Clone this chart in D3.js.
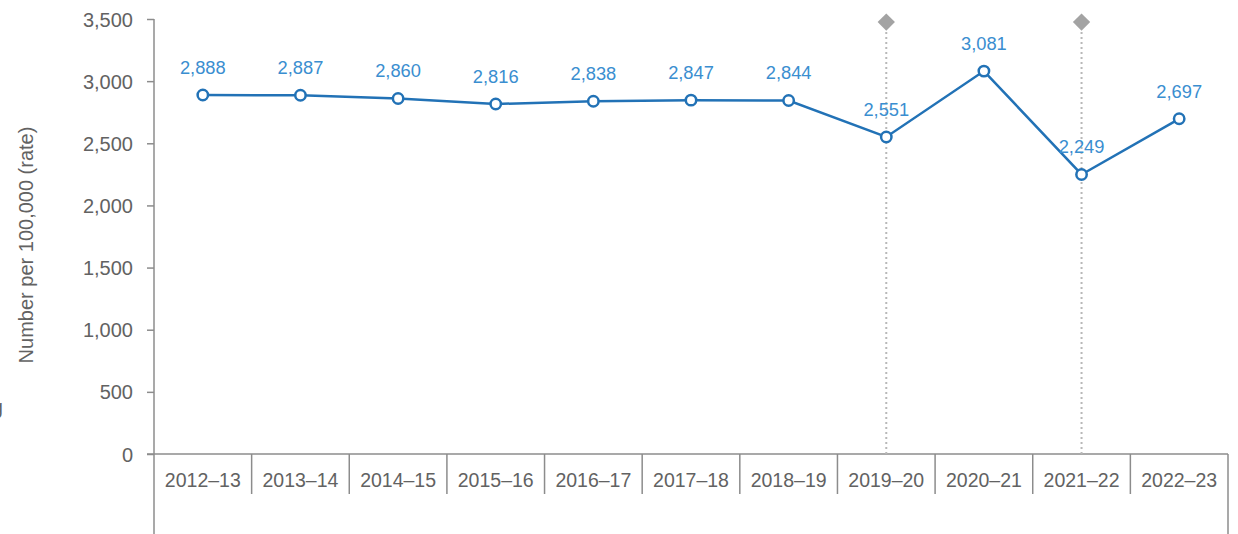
<!DOCTYPE html>
<html>
<head>
<meta charset="utf-8">
<script src="https://cdn.jsdelivr.net/npm/d3@7"></script>
<style>
  html, body { margin: 0; padding: 0; background: #fff; }
  svg text { font-family: "Liberation Sans", "Helvetica Neue", Arial, sans-serif; }
</style>
</head>
<body>
<svg id="chart" width="1238" height="534"></svg>
<script>
// Rates per 100,000 by financial year
const years = ["2012–13", "2013–14", "2014–15", "2015–16", "2016–17", "2017–18",
               "2018–19", "2019–20", "2020–21", "2021–22", "2022–23"];
const rates = [2888, 2887, 2860, 2816, 2838, 2847, 2844, 2551, 3081, 2249, 2697];
const breakYears = ["2019–20", "2021–22"];
const yTicks = [0, 500, 1000, 1500, 2000, 2500, 3000, 3500];
const breakMarkerLevel = 3475;

const svg = d3.select("#chart");
const plotLeft = 154, plotRight = 1228, plotTop = 19, baseline = 454, rowBottom = 534;

const x = d3.scaleBand().domain(years).range([plotLeft, plotRight]).paddingInner(0).paddingOuter(0);
const y = d3.scaleLinear().domain([0, 3500]).range([baseline, plotTop]);
const fmt = d3.format(",");

const axisColor = "#8c8c8c";
const textColor = "#626262";
const lineColor = "#2272b6";
const labelColor = "#3a8ed0";

// Y axis
const yAxis = svg.append("g").attr("transform", `translate(${plotLeft},0)`)
  .call(d3.axisLeft(y).tickValues(yTicks).tickFormat(fmt).tickSize(7).tickSizeOuter(0).tickPadding(14));
yAxis.select(".domain").remove();
yAxis.selectAll(".tick line").attr("stroke", axisColor).attr("stroke-width", 1.5);
yAxis.selectAll(".tick text").attr("fill", textColor).attr("font-size", 20).attr("dy", "0.35em");

// Left vertical axis line extends below the baseline into the category row
svg.append("line").attr("x1", plotLeft).attr("x2", plotLeft).attr("y1", plotTop).attr("y2", rowBottom)
  .attr("stroke", axisColor).attr("stroke-width", 1.5);
// Right border of the category row
svg.append("line").attr("x1", plotRight).attr("x2", plotRight).attr("y1", baseline).attr("y2", rowBottom)
  .attr("stroke", axisColor).attr("stroke-width", 1.5);
// Baseline
svg.append("line").attr("x1", plotLeft - 7).attr("x2", plotRight).attr("y1", baseline).attr("y2", baseline)
  .attr("stroke", axisColor).attr("stroke-width", 1.5);

// Category separators
svg.append("g").selectAll("line").data(years.slice(1)).join("line")
  .attr("x1", d => x(d)).attr("x2", d => x(d))
  .attr("y1", baseline).attr("y2", baseline + 40)
  .attr("stroke", axisColor).attr("stroke-width", 1.5);

// Category labels
svg.append("g").selectAll("text").data(years).join("text")
  .attr("x", d => x(d) + x.bandwidth() / 2)
  .attr("y", baseline + 26)
  .attr("dy", "0.35em")
  .attr("text-anchor", "middle")
  .attr("fill", textColor)
  .attr("font-size", 19.5)
  .text(d => d);

// Y axis title
svg.append("text")
  .attr("transform", "translate(33,245) rotate(-90)")
  .attr("text-anchor", "middle")
  .attr("fill", textColor)
  .attr("font-size", 20)
  .text("Number per 100,000 (rate)");

svg.append("text")
  .attr("x", -8).attr("y", 414)
  .attr("fill", textColor)
  .attr("font-size", 19.5)
  .text("g");

// Series break markers
const cx = d => x(d) + x.bandwidth() / 2;
const breaks = svg.append("g");
breaks.selectAll("line").data(breakYears).join("line")
  .attr("x1", cx).attr("x2", cx)
  .attr("y1", y(breakMarkerLevel)).attr("y2", baseline)
  .attr("stroke", "#b8b8b8").attr("stroke-width", 2)
  .attr("stroke-dasharray", "2,3");
breaks.selectAll("path").data(breakYears).join("path")
  .attr("d", d3.symbol(d3.symbolSquare, 150))
  .attr("transform", d => `translate(${cx(d)},${y(breakMarkerLevel)}) rotate(45)`)
  .attr("fill", "#a3a3a3");

// Line
const pts = years.map((yr, i) => ({ yr, v: rates[i] }));
svg.append("path").datum(pts)
  .attr("fill", "none")
  .attr("stroke", lineColor)
  .attr("stroke-width", 2.5)
  .attr("d", d3.line().x(d => cx(d.yr)).y(d => y(d.v)));

svg.append("g").selectAll("circle").data(pts).join("circle")
  .attr("cx", d => cx(d.yr)).attr("cy", d => y(d.v)).attr("r", 5.2)
  .attr("fill", "#fff").attr("stroke", lineColor).attr("stroke-width", 2.5);

// Value labels
svg.append("g").selectAll("text").data(pts).join("text")
  .attr("x", d => cx(d.yr)).attr("y", d => y(d.v) - 27.5)
  .attr("dy", "0.35em")
  .attr("text-anchor", "middle")
  .attr("fill", labelColor)
  .attr("font-size", 18.3)
  .text(d => fmt(d.v));
</script>
</body>
</html>
